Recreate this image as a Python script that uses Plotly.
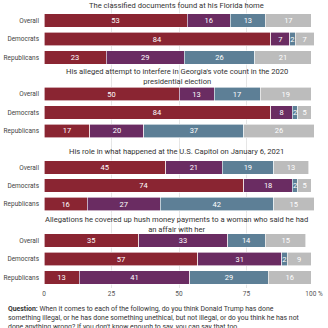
import plotly.graph_objects as go

topics = [
    "The classified documents found at his Florida home",
    "His alleged attempt to interfere in Georgia's vote count in the 2020<br>presidential election",
    "His role in what happened at the U.S. Capitol on January 6, 2021",
    "Allegations he covered up hush money payments to a woman who said he had<br>an affair with her",
]
groups = ["Overall", "Democrats", "Republicans"]
series_names = ["Illegal", "Unethical, not illegal", "Nothing wrong", "Don't know"]
illegal = [[53, 84, 23], [50, 84, 17], [45, 74, 16], [35, 57, 13]]
unethical = [[16, 7, 29], [13, 8, 20], [21, 18, 27], [33, 31, 41]]
nothing_wrong = [[13, 2, 26], [17, 2, 37], [19, 2, 42], [14, 2, 29]]
dont_know = [[17, 7, 21], [19, 5, 26], [13, 5, 15], [15, 9, 16]]
x_ticks = [0, 25, 50, 75, 100]
x_ticktext = ["0", "25", "50", "75", "100 %"]
note = ("<b>Question:</b> When it comes to each of the following, do you think Donald Trump has done<br>"
        "something illegal, or he has done something unethical, but not illegal, or do you think he has not<br>"
        "done anything wrong? If you don't know enough to say, you can say that too.")

colors = ["#8a2532", "#6a2c62", "#5d7f96", "#bcbcbc"]
series = [illegal, unethical, nothing_wrong, dont_know]

FONT = "Roboto, sans-serif"
H_PLOT = 288.0
centers = [39.0, 112.5, 185.7, 259.0]
half = 27.6
title_centers = [5.0, 76.3, 151.7, 224.4]

fig = go.Figure()
# background subplot providing full-height gridlines
fig.add_trace(go.Scatter(x=[None], y=[None], xaxis="x", yaxis="y", showlegend=False, hoverinfo="skip"))

for k in range(4):
    yname = "y" + str(k + 2)
    for s, (vals, col) in enumerate(zip(series, colors)):
        fig.add_trace(go.Bar(
            x=vals[k], y=groups, orientation="h",
            name=series_names[s], marker=dict(color=col, line=dict(color="white", width=0.6)),
            text=[str(v) for v in vals[k]], textposition="inside", insidetextanchor="middle",
            textangle=0, constraintext="none",
            textfont=dict(color="white", size=7.5, family=FONT),
            xaxis="x", yaxis=yname, showlegend=False, cliponaxis=False,
        ))

layout = dict(
    width=328, height=328,
    margin=dict(l=44, r=14, t=0, b=40),
    paper_bgcolor="white", plot_bgcolor="white",
    barmode="stack", bargap=0.27,
    showlegend=False,
    font=dict(family=FONT, size=7, color="#444"),
    uniformtext=dict(minsize=7.5, mode="show"),
    xaxis=dict(range=[0, 100], tickvals=x_ticks, ticktext=x_ticktext, showgrid=True,
               gridcolor="#e6e6e6", gridwidth=1, zeroline=False, showline=False,
               tickfont=dict(size=6.5, color="#555"), anchor="y", domain=[0, 1]),
    yaxis=dict(domain=[0, 1], range=[0, 1], visible=False, showgrid=False, fixedrange=True),
)
for k in range(4):
    top = centers[k] - half
    bot = centers[k] + half
    layout["yaxis" + str(k + 2)] = dict(
        domain=[1 - bot / H_PLOT, 1 - top / H_PLOT],
        anchor="x", categoryorder="array", categoryarray=groups, autorange="reversed",
        showgrid=False, zeroline=False, showline=False, ticks="",
        tickfont=dict(size=6.5, color="#444"), ticklabelstandoff=4,
    )

annotations = []
for k in range(4):
    annotations.append(dict(
        text=topics[k], xref="paper", yref="paper", x=0.491, y=1 - title_centers[k] / H_PLOT,
        xanchor="center", yanchor="middle", showarrow=False,
        font=dict(size=7.6, color="#333", family=FONT),
    ))
annotations.append(dict(
    text=note, xref="paper", yref="paper", x=(6 - 44) / 270.0, y=1 - 303 / H_PLOT,
    xanchor="left", yanchor="top", align="left", showarrow=False,
    font=dict(size=6.9, color="#333", family=FONT),
))
layout["annotations"] = annotations
fig.update_layout(**layout)
fig.write_html("out.html")
